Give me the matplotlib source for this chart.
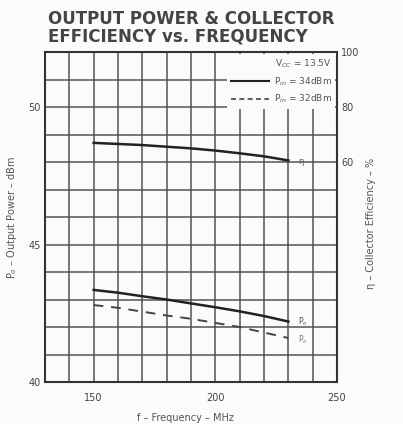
import matplotlib
matplotlib.use("Agg")
import matplotlib.pyplot as plt
from matplotlib.lines import Line2D

# Data
freq = [150, 160, 170, 180, 190, 200, 210, 220, 230]
eff = [67.0, 66.6, 66.2, 65.6, 65.0, 64.2, 63.2, 62.1, 60.6]
pout_34 = [43.35, 43.25, 43.12, 43.0, 42.86, 42.72, 42.57, 42.4, 42.2]
pout_32 = [42.8, 42.7, 42.56, 42.42, 42.3, 42.15, 42.0, 41.8, 41.6]
x_ticks = [150, 200, 250]
y_ticks = [40, 45, 50]
r_ticks = [60, 80, 100]

title = "OUTPUT POWER & COLLECTOR\nEFFICIENCY vs. FREQUENCY"

fig = plt.figure(figsize=(4.03, 4.24), dpi=100)
fig.patch.set_facecolor("#fbfbfa")
ax = fig.add_axes([0.1117, 0.099, 0.7246, 0.778])
ax.set_facecolor("#fbfbfa")
ax.set_xlim(130, 250)
ax.set_ylim(40, 52)

# grid every 10 MHz / 1 dBm
ax.set_xticks(range(130, 251, 10), minor=True)
ax.set_yticks(range(40, 53, 1), minor=True)
ax.set_xticks(x_ticks)
ax.set_yticks(y_ticks)
ax.grid(True, which="both", color="#4a4a4a", lw=1.3, alpha=0.8)
ax.tick_params(which="both", length=0, labelsize=7, colors="#444444", pad=3)
ax.tick_params(axis="x", pad=8)
for s in ax.spines.values():
    s.set_color("#333333")
    s.set_linewidth(1.5)

ax.plot(freq, pout_34, color="#222222", lw=1.8, zorder=5)
ax.plot(freq, pout_32, color="#444444", lw=1.4, ls=(0, (5, 4)), zorder=5)

ax2 = ax.twinx()
ax2.set_ylim(-20, 100)
ax2.set_yticks(r_ticks)
ax2.tick_params(length=0, labelsize=7, colors="#444444", pad=3)
for s in ax2.spines.values():
    s.set_visible(False)
ax2.plot(freq, eff, color="#222222", lw=1.8, zorder=5)

ax.text(234, 42.2, "P$_o$", fontsize=5.5, color="#555555", va="center")
ax.text(234, 41.55, "P$_o$", fontsize=5.5, color="#777777", va="center")
ax2.text(234, 60.4, "η", fontsize=6, color="#555555", va="center")

handles = [Line2D([], [], color="#222222", lw=1.5),
           Line2D([], [], color="#444444", lw=1.2, ls=(0, (3, 2)))]
leg = ax.legend(handles, ["P$_{in}$ = 34dBm", "P$_{in}$ = 32dBm"],
                title="V$_{CC}$ = 13.5V", loc="upper right", fontsize=6.5,
                title_fontsize=6.5, frameon=True, borderaxespad=0.2,
                handlelength=4.2, labelspacing=0.6, borderpad=0.35,
                handletextpad=0.6)
leg.get_frame().set_facecolor("#fbfbfa")
leg.get_frame().set_edgecolor("none")
leg.get_frame().set_alpha(1)
leg._legend_box.align = "right"
for t in leg.get_texts():
    t.set_color("#555555")
leg.get_title().set_color("#555555")
leg.set_zorder(10)

fig.text(0.12, 0.892, title, fontsize=12, fontweight="bold", color="#444444",
         ha="left", va="bottom", linespacing=1.0)
ax.set_ylabel("P$_o$ – Output Power – dBm", fontsize=7, color="#555555")
ax.yaxis.set_label_coords(-0.09, 0.5)
ax2.set_ylabel("η – Collector Efficiency – %", fontsize=7, color="#555555")
ax2.yaxis.set_label_coords(1.10, 0.48)
ax.set_xlabel("f – Frequency – MHz", fontsize=7, color="#555555")
ax.xaxis.set_label_coords(0.48, -0.095)

fig.savefig("out.png", dpi=100, facecolor=fig.get_facecolor())
